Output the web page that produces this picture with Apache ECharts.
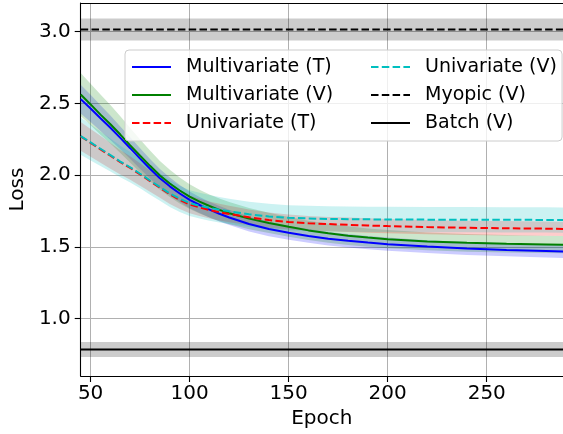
<!DOCTYPE html>
<html>
<head>
<meta charset="utf-8">
<script src="https://cdn.jsdelivr.net/npm/echarts@6/dist/echarts.min.js"></script>
<style>
html,body{margin:0;padding:0;background:#fff;}
#chart{width:563px;height:434px;}
</style>
</head>
<body>
<div id="chart"></div>
<script>
// ---- data ----
const epochs = [45,50,55,60,65,70,75,80,85,90,95,100,105,110,115,120,130,140,150,160,170,180,190,200,220,240,260,280,290];

const multiT = [2.53,2.465,2.397,2.33,2.26,2.188,2.115,2.045,1.978,1.922,1.872,1.828,1.792,1.76,1.731,1.705,1.66,1.625,1.598,1.576,1.557,1.542,1.53,1.519,1.502,1.489,1.479,1.471,1.467];
const multiV = [2.562,2.493,2.422,2.355,2.283,2.208,2.135,2.065,1.998,1.942,1.893,1.85,1.815,1.785,1.758,1.735,1.697,1.667,1.64,1.615,1.595,1.578,1.565,1.554,1.538,1.528,1.521,1.517,1.515];
const uniT   = [2.27,2.225,2.18,2.135,2.09,2.05,2.005,1.958,1.912,1.866,1.828,1.796,1.775,1.757,1.742,1.729,1.706,1.687,1.673,1.665,1.659,1.654,1.649,1.645,1.638,1.633,1.63,1.627,1.625];
const uniV   = [2.272,2.228,2.184,2.14,2.095,2.055,2.01,1.963,1.917,1.872,1.835,1.805,1.787,1.772,1.759,1.748,1.727,1.712,1.703,1.698,1.695,1.693,1.692,1.691,1.69,1.69,1.689,1.688,1.687];

const multiTStd = [0.1,0.095,0.09,0.085,0.08,0.076,0.072,0.068,0.065,0.062,0.06,0.058,0.056,0.055,0.054,0.053,0.052,0.05,0.049,0.048,0.047,0.047,0.046,0.046,0.045,0.045,0.045,0.045,0.045];
const multiVStd = [0.15,0.145,0.14,0.134,0.128,0.121,0.114,0.107,0.1,0.095,0.09,0.086,0.083,0.081,0.079,0.077,0.074,0.071,0.069,0.067,0.066,0.065,0.064,0.063,0.062,0.062,0.061,0.06,0.06];
const uniTStd   = [0.1,0.097,0.094,0.09,0.086,0.082,0.078,0.074,0.07,0.067,0.064,0.062,0.06,0.059,0.058,0.057,0.055,0.053,0.052,0.051,0.05,0.05,0.05,0.05,0.05,0.05,0.05,0.05,0.05];
const uniVStd   = [0.13,0.125,0.12,0.115,0.11,0.106,0.102,0.099,0.096,0.094,0.092,0.09,0.09,0.089,0.089,0.088,0.088,0.088,0.088,0.088,0.088,0.088,0.088,0.088,0.088,0.088,0.088,0.088,0.088];

const myopicMean = 3.015, myopicStd = 0.077;
const batchMean = 0.785, batchStd = 0.052;

const xTicks = [50,100,150,200,250];
const yTicks = [1.0,1.5,2.0,2.5,3.0];
const xRange = [45, 288.5];
const yRange = [0.6, 3.2];

const names = ['Multivariate (T)','Multivariate (V)','Univariate (T)','Univariate (V)','Myopic (V)','Batch (V)'];

// ---- build ----
const FONT = 'DejaVu Sans';
const DASH = [7.5, 3.3];

function pairs(ys){ return epochs.map((e,i)=>[e, ys[i]]); }
function constArr(v){ return epochs.map(()=>v); }

function band(key, mean, std, color, opacity){
  return {
    type:'custom', name:key+'-band', silent:true, clip:true, z:1,
    data: epochs.map((e,i)=>[e, mean[i]-std[i], mean[i]+std[i]]),
    renderItem:function(params, api){
      if (params.dataIndex !== 0) return null;
      const upper = epochs.map((e,i)=>api.coord([e, mean[i]+std[i]]));
      const lower = epochs.map((e,i)=>api.coord([e, mean[i]-std[i]])).reverse();
      return {
        type:'polygon',
        shape:{points: upper.concat(lower)},
        style:{fill: color, opacity: opacity, stroke:'none'}
      };
    }
  };
}
function line(name, mean, color, dashed){
  return {type:'line', name:name, data:pairs(mean), symbol:'none', showSymbol:false,
    itemStyle:{color:color},
    lineStyle:{color:color, width:2, type: dashed ? DASH : 'solid'}, z:3};
}

const myopic = constArr(myopicMean), myopicS = constArr(myopicStd);
const batch = constArr(batchMean), batchS = constArr(batchStd);

const series = [
  band('myo', myopic, myopicS, '#000000', 0.2),
  band('bat', batch, batchS, '#000000', 0.2),
  band('mT', multiT, multiTStd, '#0000ff', 0.2),
  band('mV', multiV, multiVStd, '#008000', 0.2),
  band('uT', uniT, uniTStd, '#ff0000', 0.2),
  band('uV', uniV, uniVStd, '#00bfbf', 0.2),
  line(names[0], multiT, '#0000ff', false),
  line(names[1], multiV, '#008000', false),
  line(names[2], uniT, '#ff0000', true),
  line(names[3], uniV, '#00bfbf', true),
  line(names[4], myopic, '#000000', true),
  line(names[5], batch, '#000000', false)
];

const legendText = {fontFamily:FONT, fontSize:19, color:'#000', lineHeight:20, padding:[0,0,0,10]};

const option = {
  animation:false,
  backgroundColor:'#fff',
  grid:{left:76, top:3, right:0, bottom:58, containLabel:false},
  xAxis:[{
    type:'value', min:xRange[0], max:xRange[1], splitNumber:5,
    name:'Epoch', nameLocation:'middle', nameGap:31,
    nameTextStyle:{fontFamily:FONT, fontSize:20, color:'#000'},
    axisLine:{show:true, onZero:false, lineStyle:{color:'#000', width:1.1}},
    axisTick:{show:true, length:6, lineStyle:{color:'#000', width:1.1}, customValues:xTicks},
    axisLabel:{fontFamily:FONT, fontSize:20, color:'#000', margin:8, customValues:xTicks},
    splitLine:{show:true, lineStyle:{color:'#b0b0b0', width:1}}
  },{
    type:'value', position:'top', min:xRange[0], max:xRange[1],
    axisLine:{show:true, onZero:false, lineStyle:{color:'#000', width:1.1}},
    axisTick:{show:false}, axisLabel:{show:false}, splitLine:{show:false}
  }],
  yAxis:{
    type:'value', min:yRange[0], max:yRange[1], splitNumber:5,
    name:'Loss', nameLocation:'middle', nameGap:49,
    nameTextStyle:{fontFamily:FONT, fontSize:20, color:'#000'},
    axisLine:{show:true, onZero:false, lineStyle:{color:'#000', width:1.1}},
    axisTick:{show:true, length:6, lineStyle:{color:'#000', width:1.1}, customValues:yTicks},
    axisLabel:{fontFamily:FONT, fontSize:20, color:'#000', margin:10, customValues:yTicks,
      formatter:(v)=>Number(v).toFixed(1)},
    splitLine:{show:true, lineStyle:{color:'#b0b0b0', width:1}}
  },
  legend:[{
    data:names.slice(0,3), orient:'vertical', left:125, top:50,
    padding:[7,229,8,6], itemGap:8, itemWidth:39, itemHeight:14,
    backgroundColor:'rgba(255,255,255,0.8)', borderColor:'#cccccc', borderWidth:1, borderRadius:4,
    itemStyle:{opacity:0}, textStyle:legendText, selectedMode:false, z:4
  },{
    data:names.slice(3,6), orient:'vertical', left:370, top:57,
    padding:0, itemGap:8, itemWidth:39, itemHeight:14,
    itemStyle:{opacity:0}, textStyle:legendText, selectedMode:false, z:5
  }],
  series:series
};

const chart = echarts.init(document.getElementById('chart'), null, {renderer:'canvas'});
chart.setOption(option);
</script>
</body>
</html>
